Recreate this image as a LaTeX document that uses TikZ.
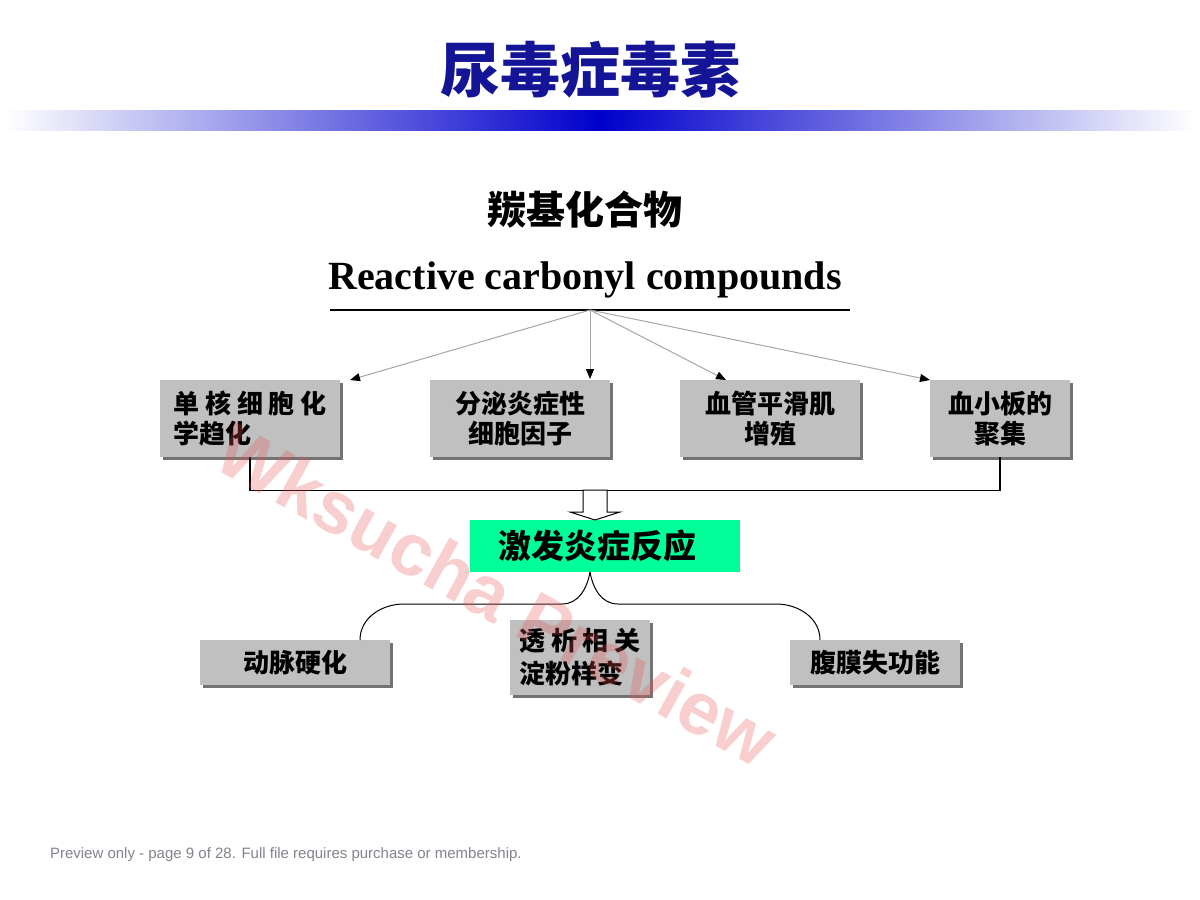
\documentclass[tikz,border=0pt]{standalone}
\usepackage{fontspec}
\setmainfont{Liberation Serif}
\newfontfamily\cjk{Noto Sans CJK SC}
\newfontfamily\arial{Liberation Sans}
\usepackage{tikz}
\usetikzlibrary{arrows.meta, positioning, calc, shadows}

\definecolor{titleblue}{RGB}{20,20,150}
\definecolor{barblue}{RGB}{0,0,204}
\definecolor{boxgray}{RGB}{192,192,192}
\definecolor{firegreen}{RGB}{0,255,153}
\definecolor{footgray}{RGB}{130,132,140}
\definecolor{markred}{RGB}{230,80,80}

\begin{document}
\begin{tikzpicture}[
  x=0.5pt, y=-0.5pt,
  box/.style  = {fill=boxgray, align=center, inner sep=3pt,
                 font=\cjk\bfseries\fontsize{13}{15}\selectfont,
                 drop shadow={shadow xshift=1.6pt, shadow yshift=-1.6pt,
                              fill=black!55, opacity=1}},
  feed/.style = {gray!70, line width=0.5pt,
                 -{Triangle[length=5pt, width=4pt, color=black]}},
  brace/.style = {black, line width=0.5pt}
]
  \useasboundingbox[fill=white] (0,0) rectangle (1200,900);

  % header
  \node (title) at (590,70)
      {\color{titleblue}\cjk\bfseries\fontsize{30}{36}\selectfont 尿毒症毒素};
  \shade[left color=white, right color=white, middle color=barblue]
      (5,110) rectangle (1195,130);

  % source
  \node (rcc-cn) at (585,210) {\cjk\bfseries\fontsize{19.5}{23}\selectfont 羰基化合物};
  \node (rcc) at (585,280) {\bfseries\fontsize{20}{24}\selectfont Reactive carbonyl compounds};
  \draw[line width=0.6pt] (330,310) -- (850,310);
  \coordinate (src) at (590,310);

  % first row
  \node[box, minimum width=90pt, minimum height=38.5pt, align=left] (mono) at (250,418.5)
      {单 核 细 胞 化\\学趋化};
  \node[box, minimum width=90pt, minimum height=38.5pt] (cyto) at (520,418.5)
      {分泌炎症性\\细胞因子};
  \node[box, minimum width=90pt, minimum height=38.5pt] (vsmc) at (770,418.5)
      {血管平滑肌\\增殖};
  \node[box, minimum width=70pt, minimum height=38.5pt] (plt) at (1000,418.5)
      {血小板的\\聚集};

  \coordinate (t1) at (350,380);
  \coordinate (t2) at (590,379);
  \coordinate (t3) at (726,380);
  \coordinate (t4) at (930,380);
  \foreach \t in {t1,t2,t3,t4}
    \draw[feed] (src) -- (\t);

  % collecting bracket
  \draw[line width=0.6pt] (mono.south) -- ++(0,33) coordinate (join) -| (plt.south);

  % inflammation
  \node[fill=firegreen, minimum width=135pt, minimum height=26pt,
        font=\cjk\bfseries\fontsize{16.5}{20}\selectfont] (fire) at (605,546)
      {\hspace{-8pt}激发炎症反应};
  \draw[fill=white, line width=0.5pt]
      (583,490) -- (607,490) -- (607,512) -- (620,512) -- (595,520)
      -- (570,512) -- (583,512) -- cycle;

  % outcomes
  \node[box, minimum width=95pt, minimum height=22.5pt] (athero) at (295,662.5) {动脉硬化};
  \node[box, minimum width=70pt, minimum height=37.5pt, align=left,
        font=\cjk\bfseries\fontsize{13}{16.5}\selectfont] (amyl) at (580,657.5)
      {透 析 相 关\\淀粉样变};
  \node[box, minimum width=85pt, minimum height=22.5pt] (perit) at (875,662.5) {腹膜失功能};

  \coordinate (tip) at (590,572);
  \coordinate (lend) at (360,640);
  \coordinate (rend) at (820,640);
  \draw[brace] (tip) to[out=-100, in=0] (562,604) -- (404,604)
      to[out=180, in=90] (lend);
  \draw[brace] (tip) to[out=-80, in=180] (618,604) -- (776,604)
      to[out=0, in=90] (rend);

  % watermark and footer
  \node[rotate=-29, text=markred, text opacity=0.28,
        font=\arial\bfseries\fontsize{37}{40}\selectfont] (mark) at (497,595)
      {Wksucha Preview};
  \node[anchor=west, text=footgray, font=\arial\fontsize{7.5}{9}\selectfont] (foot) at (43,855)
      {Preview only - page 9 of 28. Full file requires purchase or membership.};
\end{tikzpicture}
\end{document}
